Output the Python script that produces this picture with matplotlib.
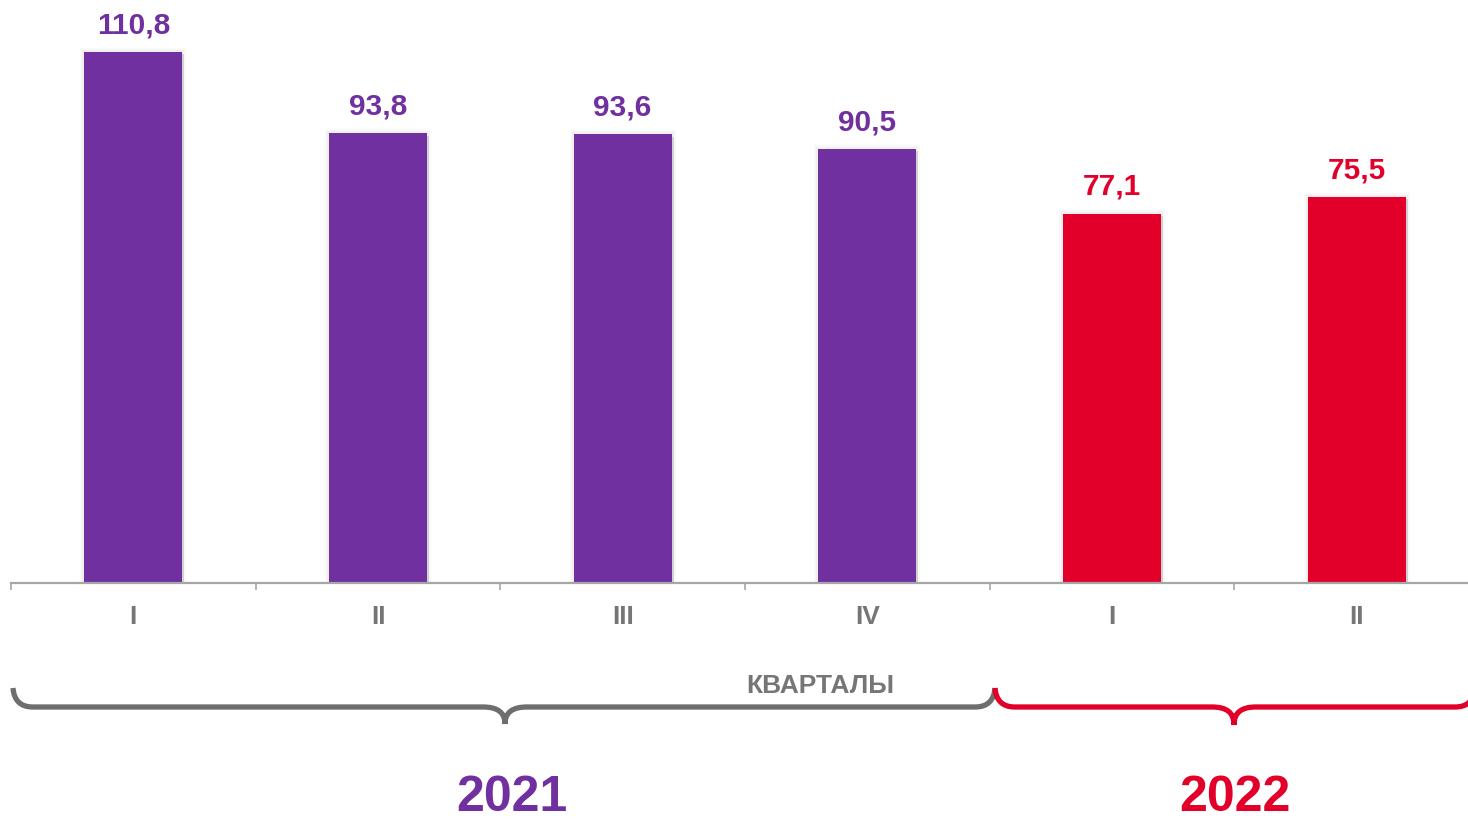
import matplotlib
matplotlib.use("Agg")
import matplotlib.pyplot as plt
from matplotlib.path import Path
from matplotlib.patches import PathPatch
from matplotlib import patheffects as pe
from matplotlib.transforms import Affine2D

# ---- data ----
quarters = ["I", "II", "III", "IV", "I", "II"]
bar_heights = [110.8, 93.8, 93.6, 90.5, 77.1, 80.5]   # heights as drawn in the reference
value_labels = ["110,8", "93,8", "93,6", "90,5", "77,1", "75,5"]
years = ["2021", "2022"]
axis_title = "КВАРТАЛЫ"

PURPLE = "#7030A0"
RED = "#E2002B"
GRAY_TXT = "#767676"
GRAY_AX = "#A6A6A6"
GRAY_BRACE = "#6E6E6E"
year_colors = [PURPLE, RED]
bar_colors = [PURPLE] * 4 + [RED] * 2

W, H = 1468, 822
plt.rcParams["font.family"] = ["Liberation Sans", "DejaVu Sans"]
fig = plt.figure(figsize=(W / 100, H / 100), dpi=100)

# axes in pixel geometry
ax_left, ax_right = 11, 11 + 6 * 244.67
ax_bottom_px = 583
px_per_unit = 531 / 110.8
ymax = 120
ax = fig.add_axes([ax_left / W, (H - ax_bottom_px) / H,
                   (ax_right - ax_left) / W, ymax * px_per_unit / H])
ax.set_xlim(-0.5, 5.5)
ax.set_ylim(0, ymax)

x = list(range(len(quarters)))
bars = ax.bar(x, bar_heights, width=0.40, color=bar_colors, zorder=2)
for b in bars:
    b.set_path_effects([
        pe.SimplePatchShadow(offset=(1.5, -1.5), shadow_rgbFace="black", alpha=0.12),
        pe.Stroke(linewidth=6, foreground="black", alpha=0.025),
        pe.Stroke(linewidth=3, foreground="black", alpha=0.04),
        pe.Normal(),
    ])

for xi, h, lab, c in zip(x, bar_heights, value_labels, bar_colors):
    ax.annotate(lab, (xi, h), xytext=(0, 19), textcoords="offset pixels",
                ha="center", va="baseline", fontsize=21.5, fontweight="bold", color=c)

for s in ["top", "right", "left"]:
    ax.spines[s].set_visible(False)
ax.spines["bottom"].set_color(GRAY_AX)
ax.spines["bottom"].set_linewidth(1.6)
ax.set_yticks([])

ax.set_xticks([i - 0.5 for i in range(len(quarters) + 1)])
ax.set_xticklabels([])
ax.tick_params(axis="x", which="major", length=5, width=1.2, color=GRAY_AX, direction="out")
ax.set_xticks(x, minor=True)
ax.set_xticklabels(quarters, minor=True)
ax.tick_params(axis="x", which="minor", length=0, pad=16,
               labelsize=19, labelcolor=GRAY_TXT)
for t in ax.get_xticklabels(minor=True):
    t.set_fontweight("bold")

# ---- decorations in pixel coords (origin top-left) ----
pix = Affine2D().scale(1 / W, -1 / H).translate(0, 1) + fig.transFigure

fig.text(820 / W, 1 - 693 / H, axis_title, ha="center", va="baseline",
         fontsize=19, fontweight="bold", color=GRAY_TXT)


def brace(x0, x1, xm, ytop, ybar, ytip, color):
    r = 20
    verts = [
        (x0, ytop),
        (x0 + 1, ybar - 7), (x0 + 7, ybar), (x0 + r, ybar),
        (xm - 22, ybar),
        (xm - 8, ybar), (xm, ybar + 5), (xm, ytip),
        (xm, ybar + 5), (xm + 8, ybar), (xm + 22, ybar),
        (x1 - r, ybar),
        (x1 - 7, ybar), (x1 - 1, ybar - 7), (x1, ytop),
    ]
    codes = [Path.MOVETO,
             Path.CURVE4, Path.CURVE4, Path.CURVE4,
             Path.LINETO,
             Path.CURVE4, Path.CURVE4, Path.CURVE4,
             Path.CURVE4, Path.CURVE4, Path.CURVE4,
             Path.LINETO,
             Path.CURVE4, Path.CURVE4, Path.CURVE4]
    p = PathPatch(Path(verts, codes), transform=pix, fill=False,
                  edgecolor=color, linewidth=3.8, capstyle="butt")
    fig.add_artist(p)


brace(13, 995, 505, 688, 707, 724, GRAY_BRACE)
brace(995, 1475, 1234, 688, 707, 725, RED)

fig.text(512 / W, 1 - 811 / H, years[0], ha="center", va="baseline",
         fontsize=36, fontweight="bold", color=year_colors[0])
fig.text(1235 / W, 1 - 811 / H, years[1], ha="center", va="baseline",
         fontsize=36, fontweight="bold", color=year_colors[1])

fig.savefig("out.png", dpi=100)
